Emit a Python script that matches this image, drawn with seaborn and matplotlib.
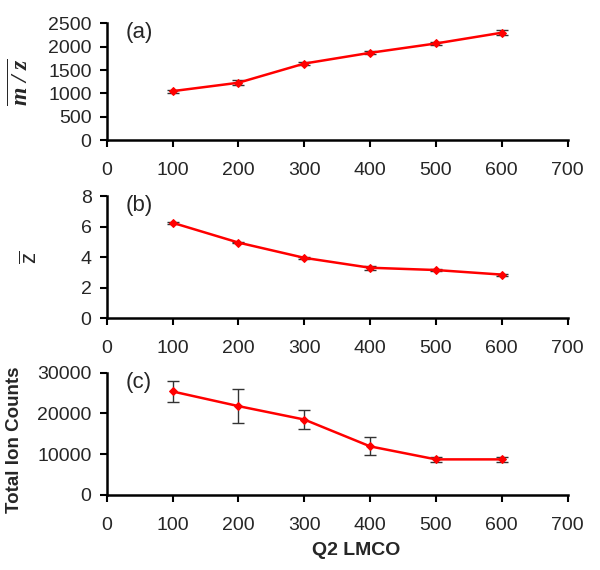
import matplotlib
matplotlib.use('Agg')
import seaborn as sns
import matplotlib.pyplot as plt
import pandas as pd

# Data
lmco = [100, 200, 300, 400, 500, 600]
mz_mean = [1050, 1230, 1640, 1870, 2070, 2300]
mz_err = [30, 50, 40, 30, 40, 50]
z_mean = [6.25, 4.95, 3.95, 3.3, 3.15, 2.85]
z_err = [0.08, 0.06, 0.06, 0.12, 0.06, 0.06]
tic_mean = [25400, 21800, 18500, 11900, 8700, 8700]
tic_err = [2700, 4100, 2400, 2200, 700, 700]

sns.set_style('ticks')
plt.rcParams['font.family'] = ['Liberation Sans', 'DejaVu Sans']
plt.rcParams['mathtext.fontset'] = 'custom'
plt.rcParams['mathtext.rm'] = 'Liberation Sans'
plt.rcParams['mathtext.it'] = 'Liberation Serif:italic'
plt.rcParams['mathtext.bf'] = 'Liberation Serif:bold:italic'

fig = plt.figure(figsize=(6, 5.7), dpi=100)
left, width = 0.178, 0.768
ax_a = fig.add_axes([left, 0.754, width, 0.205])
ax_b = fig.add_axes([left, 0.442, width, 0.214])
ax_c = fig.add_axes([left, 0.132, width, 0.214])

panels = [
    (ax_a, mz_mean, mz_err, 2500, [0, 500, 1000, 1500, 2000, 2500], '(a)'),
    (ax_b, z_mean, z_err, 8, [0, 2, 4, 6, 8], '(b)'),
    (ax_c, tic_mean, tic_err, 30000, [0, 10000, 20000, 30000], '(c)'),
]

for ax, vals, errs, ytop, yticks, tag in panels:
    df = pd.DataFrame({'lmco': lmco, 'val': vals})
    ax.errorbar(lmco, vals, yerr=errs, fmt='none', ecolor='#333333',
                elinewidth=1, capsize=4, capthick=1, zorder=2)
    sns.lineplot(data=df, x='lmco', y='val', ax=ax, color='red',
                 linewidth=1.8, marker='D', markersize=4.5,
                 markeredgecolor='red', zorder=3)
    ax.set_xlim(0, 700)
    ax.set_ylim(0, ytop)
    ax.set_xticks(range(0, 701, 100))
    ax.set_yticks(yticks)
    ax.tick_params(labelsize=14, width=1.5, length=5, color='black')
    ax.tick_params(axis='x', pad=11)
    ax.tick_params(axis='y', pad=6)
    for s in ['left', 'bottom']:
        ax.spines[s].set_linewidth(1.8)
        ax.spines[s].set_color('black')
    sns.despine(ax=ax)
    ax.set_xlabel('')
    ax.text(0.04, 1.01, tag, transform=ax.transAxes, fontsize=16,
            va='top', ha='left')

ax_a.set_ylabel(r'$\overline{\mathbf{m\ /\ z}}$', fontsize=17)
ax_a.yaxis.set_label_coords(-0.16, 0.5)
ax_b.set_ylabel(r'$\overline{\mathrm{z}}$', fontsize=16)
ax_b.yaxis.set_label_coords(-0.14, 0.5)
ax_c.set_ylabel('Total Ion Counts', fontsize=13.5, fontweight='bold')
ax_c.yaxis.set_label_coords(-0.182, 0.45)
ax_c.set_xlabel('Q2 LMCO', fontsize=14, fontweight='bold')
ax_c.xaxis.set_label_coords(0.542, -0.39)

fig.savefig('out.png', dpi=100)
